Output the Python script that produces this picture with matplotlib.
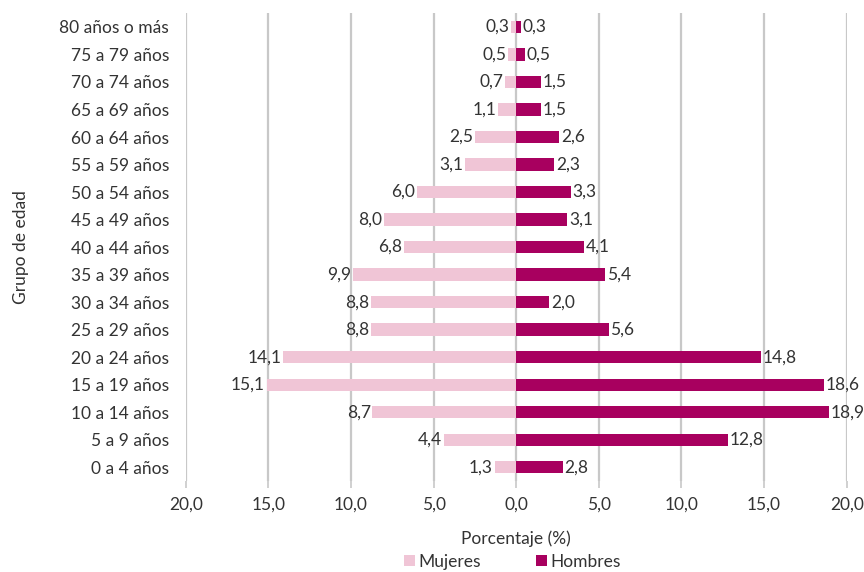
import matplotlib.pyplot as plt
import numpy as np

plt.rcParams['font.family'] = ['Lato', 'DejaVu Sans']

grupos = ['0 a 4 años', '5 a 9 años', '10 a 14 años', '15 a 19 años', '20 a 24 años',
          '25 a 29 años', '30 a 34 años', '35 a 39 años', '40 a 44 años', '45 a 49 años',
          '50 a 54 años', '55 a 59 años', '60 a 64 años', '65 a 69 años', '70 a 74 años',
          '75 a 79 años', '80 años o más']
mujeres = [1.3, 4.4, 8.7, 15.1, 14.1, 8.8, 8.8, 9.9, 6.8, 8.0, 6.0, 3.1, 2.5, 1.1, 0.7, 0.5, 0.3]
hombres = [2.8, 12.8, 18.9, 18.6, 14.8, 5.6, 2.0, 5.4, 4.1, 3.1, 3.3, 2.3, 2.6, 1.5, 1.5, 0.5, 0.3]
ticks = [-20, -15, -10, -5, 0, 5, 10, 15, 20]

c_muj = '#F0C5D6'
c_hom = '#A8005F'
txt = '#333333'

def fmt(v):
    return f'{abs(v):.1f}'.replace('.', ',')

fig = plt.figure(figsize=(8.64, 5.72), dpi=100)
ax = fig.add_axes([0.215, 0.159, 0.765, 0.818])

y = np.arange(len(grupos))
ax.barh(y, [-v for v in mujeres], height=0.45, color=c_muj, label='Mujeres', zorder=3)
ax.barh(y, hombres, height=0.45, color=c_hom, label='Hombres', zorder=3)

for i in range(len(grupos)):
    ax.text(-mujeres[i] - 0.1, y[i], fmt(mujeres[i]), ha='right', va='center',
            fontsize=12.5, color=txt, zorder=4)
    ax.text(hombres[i] + 0.1, y[i], fmt(hombres[i]), ha='left', va='center',
            fontsize=12.5, color=txt, zorder=4)

ax.set_xlim(-20, 20)
ax.set_ylim(-0.5, len(grupos) - 0.5)
ax.set_xticks(ticks)
ax.set_xticklabels([fmt(t) for t in ticks], fontsize=12.5, color=txt)
ax.set_yticks(y)
ax.set_yticklabels(grupos, fontsize=12.5, color=txt)
ax.tick_params(axis='y', length=0, pad=12)
ax.tick_params(axis='x', length=5, color='#C8C8C8', width=1.2, pad=6)
ax.grid(axis='x', color='#C8C8C8', linewidth=1.6, zorder=0)
for s in ax.spines.values():
    s.set_visible(False)

ax.set_xlabel('Porcentaje (%)', fontsize=12.5, color=txt, labelpad=13)
ax.set_ylabel('Grupo de edad', fontsize=12.5, color=txt, labelpad=22)

fig.legend(loc='center', bbox_to_anchor=(0.593, 0.018), ncol=2, frameon=False,
           fontsize=12.5, handlelength=0.6, handleheight=0.6, handletextpad=0.2,
           columnspacing=3.2, labelcolor=txt)

fig.savefig('out.png', dpi=100)
